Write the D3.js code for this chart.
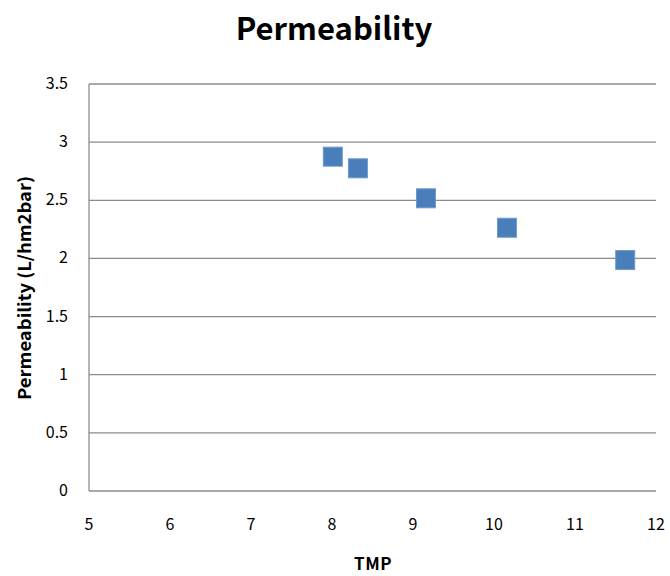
<!DOCTYPE html>
<html>
<head>
<meta charset="utf-8">
<script src="https://cdn.jsdelivr.net/npm/d3@7"></script>
<style>
  body { margin: 0; background: #fff; }
  text { font-family: "Noto Sans CJK KR", "Noto Sans", sans-serif; fill: #000; }
</style>
</head>
<body>
<div id="chart"></div>
<script>
// data
const tmp = [8.01, 8.32, 9.16, 10.16, 11.62];
const permeability = [2.875, 2.775, 2.517, 2.264, 1.986];
const xTicks = [5, 6, 7, 8, 9, 10, 11, 12];
const yTicks = [0, 0.5, 1, 1.5, 2, 2.5, 3, 3.5];

const width = 670, height = 576;
const margin = { top: 84, right: 14, bottom: 85, left: 89 };

const svg = d3.select("#chart").append("svg")
  .attr("width", width).attr("height", height);

const x = d3.scaleLinear([5, 12], [margin.left, width - margin.right]);
const y = d3.scaleLinear([0, 3.5], [height - margin.bottom, margin.top]);

// gridlines
svg.append("g")
  .selectAll("line")
  .data(yTicks)
  .join("line")
  .attr("x1", margin.left).attr("x2", width - margin.right)
  .attr("y1", d => y(d)).attr("y2", d => y(d))
  .attr("stroke", "#8c8c8c").attr("stroke-width", 1.3);

// y axis line
svg.append("line")
  .attr("x1", margin.left).attr("x2", margin.left)
  .attr("y1", y(3.5)).attr("y2", y(0))
  .attr("stroke", "#8c8c8c").attr("stroke-width", 1.3);

// y tick labels
svg.append("g")
  .selectAll("text")
  .data(yTicks)
  .join("text")
  .attr("x", 68)
  .attr("y", d => y(d) + 5)
  .attr("text-anchor", "end")
  .style("font-size", "16px")
  .text(d => d);

// x tick labels
svg.append("g")
  .selectAll("text")
  .data(xTicks)
  .join("text")
  .attr("x", d => x(d))
  .attr("y", 530)
  .attr("text-anchor", "middle")
  .style("font-size", "16px")
  .text(d => d);

// title and axis labels
svg.append("text")
  .attr("x", 334).attr("y", 40)
  .attr("text-anchor", "middle")
  .style("font-size", "31px").style("font-weight", "bold")
  .text("Permeability");

svg.append("text")
  .attr("x", 373).attr("y", 570)
  .attr("text-anchor", "middle")
  .style("font-size", "17px").style("font-weight", "bold")
  .style("letter-spacing", "0.5px")
  .text("TMP");

svg.append("text")
  .attr("transform", "translate(31,288) rotate(-90)")
  .attr("text-anchor", "middle")
  .attr("textLength", 224)
  .attr("lengthAdjust", "spacingAndGlyphs")
  .style("font-size", "17px").style("font-weight", "bold")
  .text("Permeability (L/hm2bar)");

// points
const size = 19;
svg.append("g")
  .selectAll("rect")
  .data(tmp)
  .join("rect")
  .attr("x", (d, i) => x(d) - size / 2)
  .attr("y", (d, i) => y(permeability[i]) - size / 2)
  .attr("width", size).attr("height", size)
  .attr("fill", "#4a7ebb")
  .attr("stroke", "#6d98cc").attr("stroke-width", 1);
</script>
</body>
</html>
